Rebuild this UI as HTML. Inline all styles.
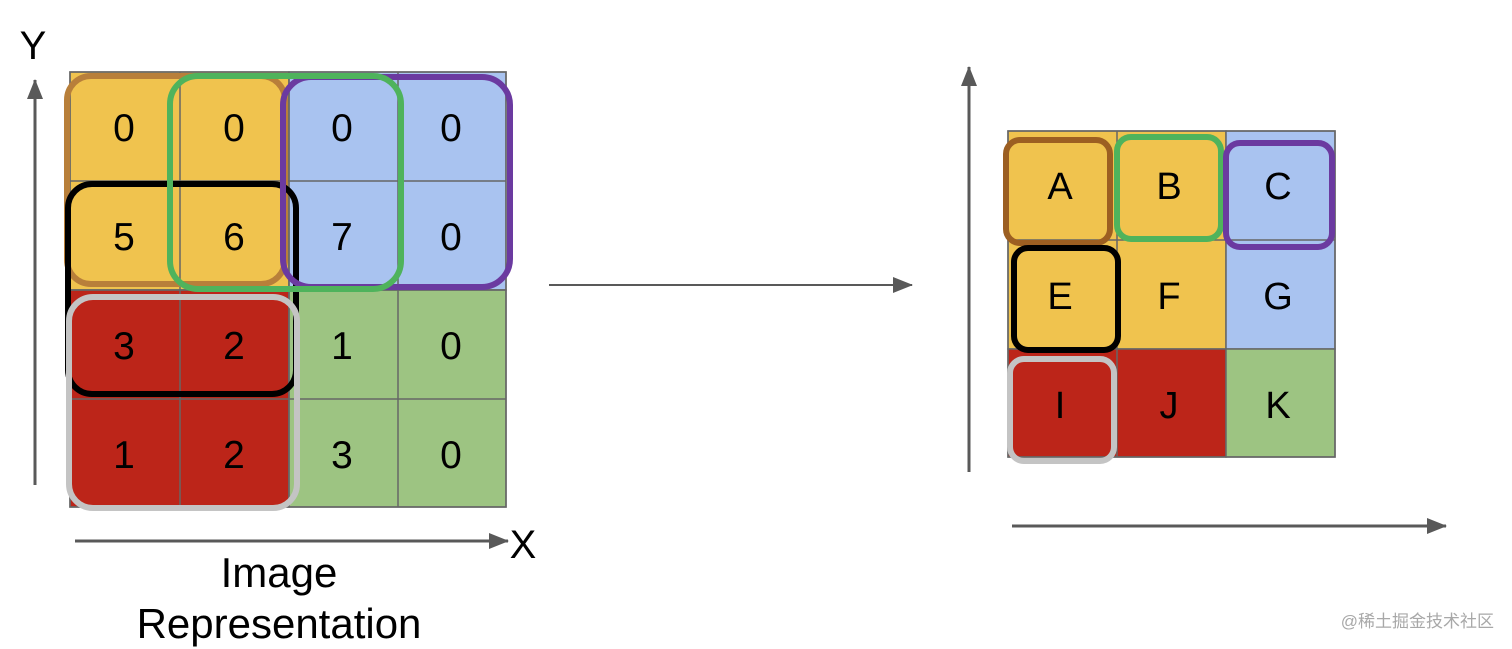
<!DOCTYPE html>
<html><head><meta charset="utf-8"><style>
html,body{margin:0;padding:0;background:#fff;width:1512px;height:649px;overflow:hidden}
svg text{font-family:"Liberation Sans","Noto Sans CJK SC",sans-serif}
</style></head><body>
<svg width="1512" height="649" viewBox="0 0 1512 649" xmlns="http://www.w3.org/2000/svg">
<defs>
<marker id="ahb" markerWidth="20" markerHeight="16" refX="19" refY="8" orient="auto" markerUnits="userSpaceOnUse" viewBox="0 0 20 16">
<path d="M0,0 L20,8 L0,16 z" fill="#595959"/></marker>
</defs>
<g stroke="#666" stroke-width="1.5">
<rect x="70" y="72" width="219" height="218" fill="#f0c34e"/>
<rect x="289" y="72" width="217" height="218" fill="#a9c3f0"/>
<rect x="70" y="290" width="219" height="217" fill="#bc2519"/>
<rect x="289" y="290" width="217" height="217" fill="#9dc482"/>
<line x1="180" y1="72" x2="180" y2="507"/>
<line x1="289" y1="72" x2="289" y2="507"/>
<line x1="398" y1="72" x2="398" y2="507"/>
<line x1="70" y1="181" x2="506" y2="181"/>
<line x1="70" y1="290" x2="506" y2="290"/>
<line x1="70" y1="399" x2="506" y2="399"/>
<rect x="70" y="72" width="436" height="435" fill="none"/>
</g>
<g fill="none" stroke-width="6">
<rect x="67" y="76" width="218" height="208" rx="24" stroke="#b87f3a"/>
<rect x="68" y="184" width="228" height="210" rx="24" stroke="#000"/>
<rect x="283" y="77" width="227" height="210" rx="28" stroke="#6b3aa0"/>
<rect x="170" y="76" width="231" height="213" rx="28" stroke="#4fb35c"/>
<rect x="69" y="297" width="228" height="211" rx="24" stroke="#c4c4c4"/>
</g>
<g font-size="39" text-anchor="middle" fill="#000">
<text x="124" y="141">0</text><text x="234" y="141">0</text><text x="342" y="141">0</text><text x="451" y="141">0</text>
<text x="124" y="250">5</text><text x="234" y="250">6</text><text x="342" y="250">7</text><text x="451" y="250">0</text>
<text x="124" y="359">3</text><text x="234" y="359">2</text><text x="342" y="359">1</text><text x="451" y="359">0</text>
<text x="124" y="468">1</text><text x="234" y="468">2</text><text x="342" y="468">3</text><text x="451" y="468">0</text>
</g>
<line x1="35" y1="485" x2="35" y2="80" stroke="#595959" stroke-width="3" marker-end="url(#ahb)"/>
<line x1="75" y1="541" x2="508" y2="541" stroke="#595959" stroke-width="3" marker-end="url(#ahb)"/>
<text x="33" y="59" font-size="40" text-anchor="middle">Y</text>
<text x="523" y="558" font-size="40" text-anchor="middle">X</text>
<text x="279" y="587" font-size="42" text-anchor="middle">Image</text>
<text x="279" y="638" font-size="42" text-anchor="middle">Representation</text>
<line x1="549" y1="285" x2="912" y2="285" stroke="#595959" stroke-width="2" marker-end="url(#ahb)"/>
<line x1="969" y1="472" x2="969" y2="67" stroke="#595959" stroke-width="3" marker-end="url(#ahb)"/>
<line x1="1012" y1="526" x2="1446" y2="526" stroke="#595959" stroke-width="3" marker-end="url(#ahb)"/>
<g stroke="#666" stroke-width="1.5">
<rect x="1008" y="131" width="218" height="218" fill="#f0c34e"/>
<rect x="1226" y="131" width="109" height="218" fill="#a9c3f0"/>
<rect x="1008" y="349" width="218" height="108" fill="#bc2519"/>
<rect x="1226" y="349" width="109" height="108" fill="#9dc482"/>
<line x1="1117" y1="131" x2="1117" y2="457"/>
<line x1="1008" y1="240" x2="1335" y2="240"/>
<rect x="1008" y="131" width="327" height="326" fill="none"/>
</g>
<g fill="none" stroke-width="6">
<rect x="1006" y="140" width="104" height="103" rx="14" stroke="#9c5f22"/>
<rect x="1117" y="137" width="104" height="102" rx="14" stroke="#4fb35c"/>
<rect x="1226" y="143" width="106" height="104" rx="14" stroke="#6b3aa0"/>
<rect x="1014" y="248" width="104" height="102" rx="14" stroke="#000"/>
<rect x="1010" y="359" width="104" height="102" rx="14" stroke="#c4c4c4"/>
</g>
<g font-size="38" text-anchor="middle" fill="#000">
<text x="1060" y="199">A</text><text x="1169" y="199">B</text><text x="1278" y="199">C</text>
<text x="1060" y="309">E</text><text x="1169" y="309">F</text><text x="1278" y="309">G</text>
<text x="1060" y="418">I</text><text x="1169" y="418">J</text><text x="1278" y="418">K</text>
</g>
<text x="1494" y="627" font-size="17" text-anchor="end" fill="#a8a8a8">@稀土掘金技术社区</text>
</svg>
</body></html>
